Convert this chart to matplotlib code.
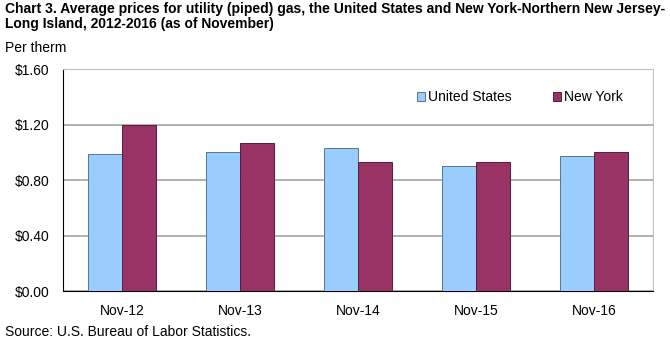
import matplotlib
matplotlib.use("Agg")
import matplotlib.pyplot as plt
import numpy as np

plt.rcParams['font.family'] = ['Liberation Sans', 'DejaVu Sans']

categories = ["Nov-12", "Nov-13", "Nov-14", "Nov-15", "Nov-16"]
us_values = [0.99, 1.00, 1.03, 0.90, 0.97]
ny_values = [1.20, 1.07, 0.93, 0.93, 1.00]
yticks = [0.0, 0.4, 0.8, 1.2, 1.6]
ytick_labels = ["$0.00", "$0.40", "$0.80", "$1.20", "$1.60"]

fig = plt.figure(figsize=(6.7, 3.4), dpi=100)
ax = fig.add_axes([0.094, 0.144, 0.881, 0.653])

x = np.arange(len(categories))
w = 0.29
ax.bar(x - w/2, us_values, w, color="#99CCFF", edgecolor="#5a7488", linewidth=0.7, label="United States", zorder=3)
ax.bar(x + w/2, ny_values, w, color="#993366", edgecolor="#5a1a3a", linewidth=0.7, label="New York", zorder=3)

ax.set_xlim(-0.5, len(categories) - 0.5)
ax.set_ylim(0, 1.6)
ax.set_yticks(yticks)
ax.set_yticklabels(ytick_labels, fontsize=10)
ax.set_xticks(x)
ax.set_xticklabels(categories, fontsize=10)
ax.tick_params(axis='x', length=0, pad=9)
ax.tick_params(axis='y', length=0, pad=10)
ax.yaxis.grid(True, color="#a0a8a0", linewidth=1.2, zorder=0)

for s in ['top', 'right']:
    ax.spines[s].set_color('#c0c0c0')
ax.spines['left'].set_color('black')
ax.spines['bottom'].set_color('black')

leg = ax.legend(loc='upper right', bbox_to_anchor=(0.97, 0.96), ncol=2, frameon=False,
                fontsize=10, handlelength=0.6, handleheight=0.6, handletextpad=0.2,
                columnspacing=3.0)

fig.text(0.008, 0.995, "Chart 3. Average prices for utility (piped) gas, the United States and New York-Northern New Jersey-\nLong Island, 2012-2016 (as of November)",
         fontsize=10, fontweight='bold', va='top', ha='left', linespacing=1.15)
fig.text(0.008, 0.86, "Per therm", fontsize=10, va='center', ha='left')
fig.text(0.008, 0.024, "Source: U.S. Bureau of Labor Statistics.", fontsize=10, va='center', ha='left')

fig.savefig("out.png", dpi=100)
